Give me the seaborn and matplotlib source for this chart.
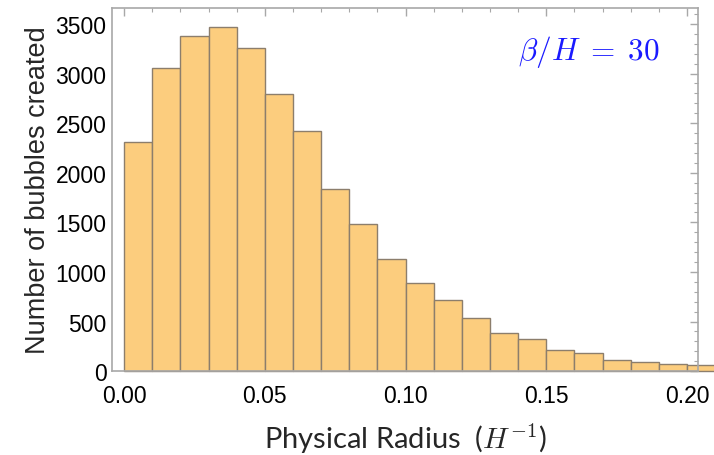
import matplotlib
matplotlib.use("Agg")
import matplotlib.pyplot as plt
from matplotlib.ticker import MultipleLocator, FormatStrFormatter
import numpy as np
import seaborn as sns

sns.set_theme(style="white")
plt.rcParams['font.family'] = ['Liberation Sans', 'DejaVu Sans']
plt.rcParams['mathtext.fontset'] = 'cm'

# Histogram data: bin left edges (width 0.01) and counts
bin_left = [0.00, 0.01, 0.02, 0.03, 0.04, 0.05, 0.06, 0.07, 0.08, 0.09, 0.10,
            0.11, 0.12, 0.13, 0.14, 0.15, 0.16, 0.17, 0.18, 0.19, 0.20]
counts = [2315, 3057, 3383, 3471, 3259, 2795, 2425, 1838, 1488, 1129, 893,
          712, 534, 389, 319, 212, 178, 114, 91, 71, 60]
bin_width = 0.01
centers = np.array(bin_left) + bin_width / 2

fill_color = "#FCCD7E"
edge_color = "#8c7e6c"
frame_color = "#a8a8a8"

fig = plt.figure(figsize=(7.14, 4.56), dpi=100)
ax = fig.add_axes([0.157, 0.184, 0.821, 0.796])

sns.histplot(x=centers, weights=counts, binwidth=bin_width, binrange=(0, 0.21),
             color=fill_color, edgecolor=edge_color, linewidth=1.0, alpha=1.0, ax=ax)

# the last bar runs past the right edge of the frame, as in the original
for p in ax.patches:
    p.set_clip_on(False)

ax.set_xlim(-0.0043, 0.204)
ax.set_ylim(0, 3660)

ax.xaxis.set_major_locator(MultipleLocator(0.05))
ax.xaxis.set_minor_locator(MultipleLocator(0.01))
ax.yaxis.set_major_locator(MultipleLocator(500))
ax.yaxis.set_minor_locator(MultipleLocator(100))
ax.xaxis.set_major_formatter(FormatStrFormatter('%.2f'))

ax.tick_params(which='both', direction='in', top=True, right=True, color=frame_color,
               labelsize=16.5, labelcolor='black')
ax.tick_params(axis='x', which='major', pad=9.5)
ax.tick_params(axis='y', which='major', pad=4)
ax.tick_params(which='major', length=6, width=1)
ax.tick_params(which='minor', length=3, width=0.8)
for s in ax.spines.values():
    s.set_color(frame_color)
    s.set_linewidth(1.2)
    s.set_zorder(3)

ax.set_ylabel("Number of bubbles created", fontsize=19.5, labelpad=3)
ax.set_xlabel(r"Physical Radius  ($H^{-1}$)", fontsize=21, labelpad=10,
              family=['Lato', 'DejaVu Sans'])

ax.text(0.935, 0.881, r"$\beta/H\;=\;30$", transform=ax.transAxes, color="#1a1aff",
        fontsize=22.5, ha='right', va='center')

fig.savefig("out.png", dpi=100)
